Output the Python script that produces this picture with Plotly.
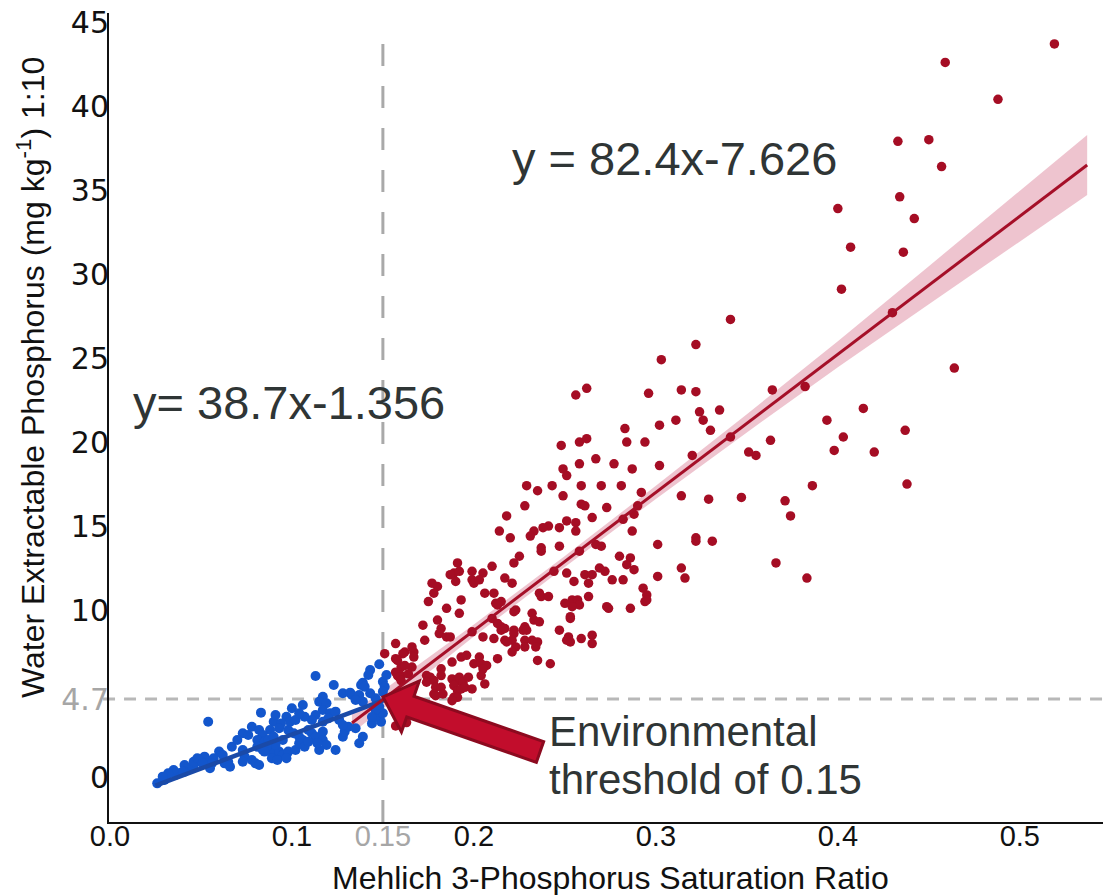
import math
import plotly.graph_objects as go

# ---------------- data ----------------
red_x = [0.519,0.459,0.488,0.433,0.450,0.457,0.400,0.434,0.442,0.407,0.436,0.402,0.430,0.464,0.382,
         0.341,0.322,0.314,0.322,0.364,0.324,0.335,0.326,0.330,0.341,0.414,0.394,0.403,0.398,0.420,0.437,0.438,
         0.363,0.351,0.355,0.320,0.386,0.314,0.329,0.347,0.371,0.374,0.322,0.322,0.331,0.314,0.316,0.366,0.383,
         0.303,0.262,0.256,0.296,0.311,0.302,0.283,0.248,0.258,0.262,0.284,0.294,0.267,0.258,0.277,0.249,0.251,
         0.287,0.302,0.243,0.259,0.270,0.281,0.292,0.249,
         0.229,0.235,0.228,0.259,0.261,0.273,0.218,0.265,0.251,0.256,0.256,0.282,0.288,0.290,0.247,0.241,0.238,
         0.233,0.231,0.214,0.220,0.287,0.301,0.237,0.237,0.247,0.258,0.267,0.270,0.280,0.286,0.284,0.288,0.225,
         0.222,0.210,0.244,0.269,0.272,0.301,0.205,0.217,0.221,0.251,0.255,0.261,0.265,0.263,0.276,0.282,0.293,
         0.295,0.294,0.295,0.206,0.211,0.236,0.237,0.241,0.263,0.254,0.257,0.258,0.254,0.273,0.274,0.286,0.212,
         0.215,0.213,0.223,0.222,0.210,0.253,0.232,0.233,0.236,0.213,0.215,0.215,0.217,0.222,0.222,0.228,0.227,
         0.229,0.247,0.252,0.253,0.251,0.259,0.265,0.265,0.211,0.217,0.221,0.218,0.228,0.232,0.235,0.205,0.228,0.234,
         0.191,0.189,0.192,0.187,0.199,0.190,0.199,0.200,0.203,0.177,0.180,0.178,0.175,0.193,0.185,0.192,0.250,
         0.253,0.172,0.180,0.182,0.181,0.185,0.187,0.173,0.199,0.223,0.221,0.242,0.235,0.157,0.162,0.151,0.167,
         0.167,0.157,0.160,0.166,0.158,0.160,0.182,0.188,0.193,0.196,0.200,0.204,0.207,0.205,0.203,0.213,0.204,
         0.174,0.176,0.174,0.178,0.179,0.182,0.188,0.191,0.192,0.194,0.197,0.189,0.191,0.193,0.195,0.199,0.182,
         0.206,0.178,0.179,0.183,0.189,0.191,0.188,0.157,0.159,0.160,0.161,0.166,0.158,0.162,0.164,0.157,0.163]
red_y = [43.7,42.6,40.4,37.9,38.0,36.4,33.9,34.6,33.3,31.6,31.3,29.1,27.7,24.4,23.3,
         27.3,25.8,23.1,23.0,23.1,21.8,21.9,21.3,20.7,20.3,22.0,21.3,20.3,19.5,19.4,20.7,17.5,
         20.1,19.4,19.2,19.2,17.4,16.8,16.6,16.7,16.5,15.6,14.3,14.1,14.1,12.5,11.9,12.8,11.9,
         24.9,23.2,22.8,22.9,21.3,21.0,20.8,19.8,20.0,20.2,20.0,20.0,19.0,18.7,18.7,18.4,18.0,
         18.4,18.6,17.4,17.4,17.4,17.4,17.0,16.8,
         17.4,17.1,16.2,16.3,16.2,16.1,15.6,15.5,15.3,15.2,14.7,15.4,15.7,16.2,14.9,15.0,14.9,
         14.7,14.4,14.7,14.3,14.7,13.9,13.7,13.5,13.8,13.5,13.9,13.8,13.2,13.1,12.7,12.4,13.2,
         12.8,12.6,12.3,12.5,12.3,12.0,12.2,11.9,11.6,12.2,11.7,12.1,12.1,11.6,11.8,11.8,11.3,
         10.9,10.5,10.6,11.0,11.0,11.0,10.8,10.8,10.8,10.6,10.6,10.3,10.2,10.2,10.1,10.1,10.4,
         10.5,10.3,10.0,9.9,9.5,9.5,9.8,9.4,9.3,9.2,9.0,8.8,8.9,8.8,8.6,9.0,8.8,
         8.8,8.8,8.4,8.1,8.2,8.3,8.5,8.0,8.3,8.2,8.2,8.1,8.2,8.2,8.1,8.4,7.8,7.8,
         12.8,12.2,12.3,12.1,12.3,11.7,11.8,11.6,11.8,11.6,11.4,11.0,10.5,10.6,10.1,9.8,10.4,
         9.6,9.1,9.4,8.9,8.6,8.4,8.4,8.2,8.7,7.8,7.5,6.8,7.0,8.0,7.5,7.4,7.5,
         7.2,7.1,6.6,6.6,6.1,6.1,6.5,6.9,7.2,7.3,6.8,6.8,6.7,6.5,7.2,7.1,6.1,
         6.1,6.0,5.7,5.8,5.4,5.4,5.9,5.8,6.0,5.7,6.0,5.5,5.2,5.3,5.4,5.3,6.1,
         5.6,5.0,4.9,5.0,4.8,4.8,4.6,6.3,6.0,5.8,7.4,7.8,7.0,6.7,6.2,3.1,3.3]

blue_x = [0.054,0.113,0.123,0.148,0.143,0.142,0.139,0.138,0.140,0.150,0.152,0.128,0.132,0.133,0.137,0.139,
          0.135,0.117,0.115,0.119,0.106,0.117,0.121,0.120,0.117,0.113,0.111,0.083,0.097,0.099,0.102,0.107,
          0.090,0.094,0.088,0.093,0.078,0.082,0.073,0.076,0.084,0.081,0.085,0.098,0.101,0.104,0.106,0.109,
          0.111,0.113,0.117,0.117,0.119,0.124,0.128,0.129,0.131,0.135,0.139,0.137,0.144,0.149,0.146,0.150,
          0.148,0.067,0.070,0.073,0.060,0.062,0.057,0.052,0.050,0.053,0.055,0.063,0.065,0.066,0.046,0.043,
          0.041,0.041,0.038,0.036,0.031,0.030,0.026,0.081,0.084,0.087,0.090,0.093,0.095,0.074,0.078,0.073,
          0.080,0.082,0.089,0.092,0.098,0.097,0.102,0.104,0.107,0.109,0.115,0.114,0.087,0.090,0.095,0.091,
          0.086,0.085,0.046,0.048,0.056,0.051,0.040,0.035,0.032,0.029,0.146,0.144,0.147,0.151,0.150,0.146,
          0.143,0.124,0.126,0.128,0.100,0.104,0.091]
blue_y = [3.35,6.07,5.54,6.77,6.43,6.13,5.67,5.54,5.43,5.73,6.13,5.04,5.08,4.94,4.94,4.54,
          4.64,4.84,4.54,4.45,4.35,4.05,3.85,3.55,3.35,3.75,3.45,3.89,3.65,3.35,3.45,3.65,
          3.35,3.25,2.86,2.96,3.05,2.86,2.66,2.56,2.56,2.26,2.16,2.86,2.66,2.46,2.26,2.86,
          2.66,2.46,2.76,2.26,1.96,1.67,2.46,2.76,3.05,2.96,2.46,2.07,3.25,3.35,3.65,3.85,
          4.24,1.86,2.26,1.67,1.57,1.37,1.17,1.27,0.97,0.87,0.58,0.87,0.97,0.67,0.67,0.58,
          0.77,0.37,0.28,0.18,0.08,-0.12,-0.32,1.86,1.67,1.67,1.47,1.57,1.37,1.27,1.07,0.97,
          0.87,0.77,1.17,1.07,1.57,1.17,1.67,2.07,1.86,2.16,1.67,2.07,2.26,2.46,2.26,1.96,
          1.86,1.57,0.97,1.17,0.87,0.87,0.37,0.48,0.28,0.08,4.05,3.63,4.35,5.43,5.14,4.74,
          5.04,3.95,3.45,3.15,4.15,3.85,3.75]

# fitted lines (end points)
red_fit_x = [0.133, 0.537]
red_fit_y = [3.27, 36.49]
blue_fit_x = [0.025, 0.151]
blue_fit_y = [-0.45, 4.65]
# confidence band of the red fit: x positions and half-widths
band_x = [0.133, 0.20, 0.25, 0.30, 0.35, 0.40, 0.45, 0.50, 0.537]
band_half = [0.60, 0.36, 0.33, 0.39, 0.54, 0.77, 1.13, 1.49, 1.79]

x_tickvals = [0.0, 0.1, 0.15, 0.2, 0.3, 0.4, 0.5]
x_ticktext = ["0.0", "0.1", "<span style='color:#a6a6a6'>0.15</span>", "0.2", "0.3", "0.4", "0.5"]
y_tickvals = [0, 4.7, 10, 15, 20, 25, 30, 35, 40, 45]
y_ticktext = ["0", "<span style='color:#a6a6a6'>4.7</span>", "10", "15", "20", "25", "30", "35", "40", "45"]

threshold_x = 0.15
threshold_y = 4.7

# ---------------- layout geometry ----------------
W, H = 1103, 895
ML, MR, MT, MB = 109, 0, 13, 73
XR = [-0.0005, 0.5457]
YR = [-2.62, 45.54]
PW, PH = W - ML - MR, H - MT - MB

def px2x(px):
    return XR[0] + (px - ML) / PW * (XR[1] - XR[0])

def px2y(py):
    return YR[0] + (H - MB - py) / PH * (YR[1] - YR[0])

def fit_at(xv, xs, ys):
    return ys[0] + (xv - xs[0]) * (ys[1] - ys[0]) / (xs[1] - xs[0])

fig = go.Figure()

# band
band_mid = [fit_at(v, red_fit_x, red_fit_y) for v in band_x]
upper = [m + h for m, h in zip(band_mid, band_half)]
lower = [m - h for m, h in zip(band_mid, band_half)]
fig.add_trace(go.Scatter(x=band_x + band_x[::-1], y=upper + lower[::-1], fill="toself",
                         fillcolor="rgba(200,60,95,0.30)", line=dict(width=0),
                         mode="lines", hoverinfo="skip", showlegend=False))

fig.add_trace(go.Scatter(x=blue_x, y=blue_y, mode="markers",
                         marker=dict(color="#1356cc", size=10, line=dict(width=0)), showlegend=False))
fig.add_trace(go.Scatter(x=red_x, y=red_y, mode="markers",
                         marker=dict(color="#a50d24", size=9.5, line=dict(width=0)), showlegend=False))

fig.add_trace(go.Scatter(x=blue_fit_x, y=blue_fit_y, mode="lines",
                         line=dict(color="#1a4aa8", width=4.5), showlegend=False))
fig.add_trace(go.Scatter(x=red_fit_x, y=red_fit_y, mode="lines",
                         line=dict(color="#a50f28", width=3), showlegend=False))

shapes = [
    dict(type="line", xref="x", yref="paper", x0=threshold_x, x1=threshold_x, y0=0, y1=0.985,
         line=dict(color="#a9a9a9", width=3, dash="22px,20px"), layer="below"),
    dict(type="line", xref="paper", yref="y", x0=-0.006, x1=1, y0=threshold_y, y1=threshold_y,
         line=dict(color="#b8b8b8", width=3, dash="12px,9px"), layer="below"),
]

# arrow (annotation graphic) built in pixel space, converted to data
tip = (383.0, 697.0)
tail = (540.0, 752.0)
dx, dy = tail[0] - tip[0], tail[1] - tip[1]
L = math.hypot(dx, dy)
ux, uy = dx / L, dy / L
nx, ny = -uy, ux
head_len, head_half, shaft_half = 29.0, 27.0, 11.0
def pt(a, b):
    return (tip[0] + a * ux + b * nx, tip[1] + a * uy + b * ny)
poly = [pt(0, 0), pt(head_len, head_half), pt(head_len, shaft_half), pt(L, shaft_half),
        pt(L, -shaft_half), pt(head_len, -shaft_half), pt(head_len, -head_half)]
path = "M " + " L ".join(f"{px2x(p[0]):.5f},{px2y(p[1]):.4f}" for p in poly) + " Z"
shapes.append(dict(type="path", xref="x", yref="y", path=path, fillcolor="#c20d2c",
                   line=dict(color="#8c0a1f", width=3), layer="above"))

txt_font = dict(family="Liberation Sans, Arial, sans-serif", color="#2f3535")
annotations = [
    dict(text="y = 82.4x-7.626", x=px2x(510), y=px2y(158), xref="x", yref="y", xanchor="left",
         yanchor="middle", showarrow=False, font=dict(size=47, **txt_font)),
    dict(text="y= 38.7x-1.356", x=px2x(131), y=px2y(402), xref="x", yref="y", xanchor="left",
         yanchor="middle", showarrow=False, font=dict(size=47, **txt_font)),
    dict(text="Environmental", x=px2x(547), y=px2y(731), xref="x", yref="y", xanchor="left",
         yanchor="middle", showarrow=False, font=dict(size=42, **txt_font)),
    dict(text="threshold of 0.15", x=px2x(547), y=px2y(779), xref="x", yref="y", xanchor="left",
         yanchor="middle", showarrow=False, font=dict(size=42, **txt_font)),
    dict(text="Mehlich 3-Phosphorus Saturation Ratio", x=(610 - ML) / PW, y=-(878 - (H - MB)) / PH,
         xref="paper", yref="paper", xanchor="center", yanchor="middle", showarrow=False,
         font=dict(size=32, family="Liberation Sans, Arial, sans-serif", color="#111")),
    dict(text="Water Extractable Phosphorus (mg kg<sup>-1</sup>) 1:10", x=-(ML - 31) / PW,
         y=(H - MB - 378) / PH, xref="paper", yref="paper", xanchor="center", yanchor="middle",
         textangle=-90, showarrow=False,
         font=dict(size=32, family="Liberation Sans, Arial, sans-serif", color="#111")),
]

fig.update_layout(
    width=W, height=H, margin=dict(l=ML, r=MR, t=MT, b=MB, pad=0, autoexpand=False),
    paper_bgcolor="white", plot_bgcolor="white",
    shapes=shapes, annotations=annotations, showlegend=False,
    xaxis=dict(range=XR, tickvals=x_tickvals, ticktext=x_ticktext, showgrid=False, zeroline=False,
               showline=True, linecolor="#111", linewidth=2, ticks="", automargin=False,
               ticklabelstandoff=-13,
               tickfont=dict(size=29, family="Liberation Sans, Arial, sans-serif", color="#111")),
    yaxis=dict(range=YR, tickvals=y_tickvals, ticktext=y_ticktext, showgrid=False, zeroline=False,
               showline=True, linecolor="#111", linewidth=2, ticks="", automargin=False,
               ticklabelstandoff=-8,
               tickfont=dict(size=30, family="DejaVu Sans, sans-serif", color="#111")),
)

fig.write_html("out.html", config={"displayModeBar": False},
               post_script="document.body.style.margin='0px';document.body.style.overflow='hidden';")
